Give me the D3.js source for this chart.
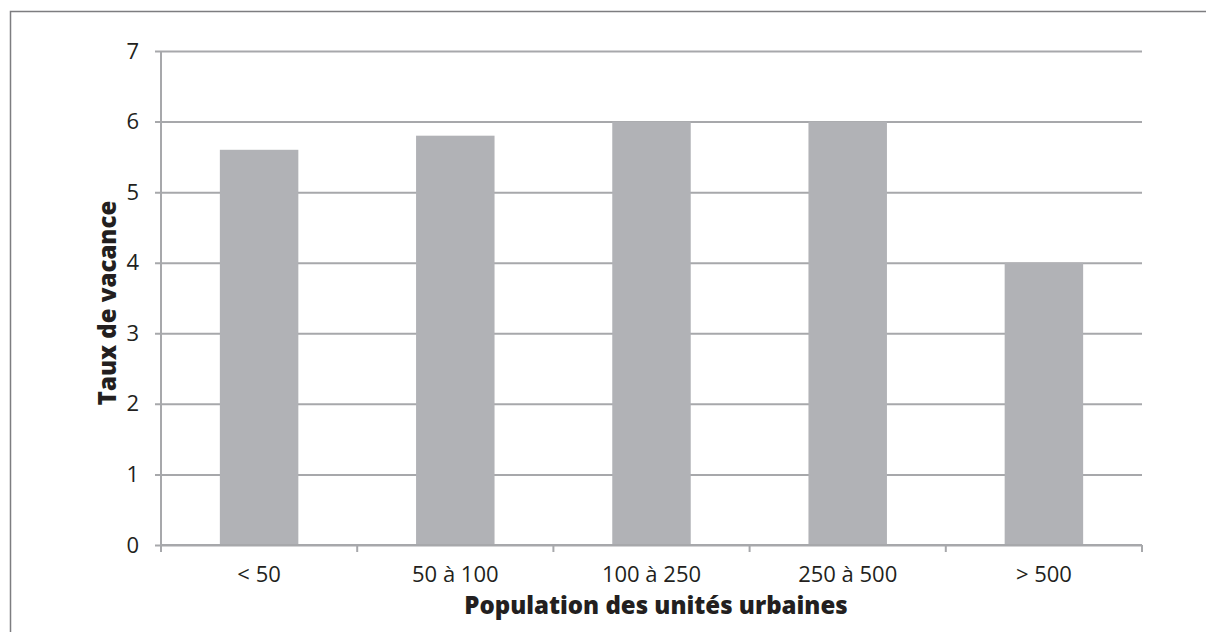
<!DOCTYPE html>
<html>
<head>
<meta charset="utf-8">
<script src="https://cdn.jsdelivr.net/npm/d3@7"></script>
<style>
  html, body { margin: 0; padding: 0; background: #fff; }
  svg { display: block; }
  text { font-family: "Open Sans", "Noto Sans", sans-serif; fill: #231f20; }
</style>
</head>
<body>
<svg id="chart" width="1206" height="632"></svg>
<script>
// Vacancy rate by size of urban unit (population, thousands)
const categories = ["< 50", "50 à 100", "100 à 250", "250 à 500", "> 500"];
const values = [5.6, 5.8, 6.0, 6.0, 4.0];
const yTicks = [0, 1, 2, 3, 4, 5, 6, 7];
const xTitle = "Population des unités urbaines";
const yTitle = "Taux de vacance";

const svg = d3.select("#chart");
const W = 1206, H = 632;
const plot = { left: 161, right: 1142, top: 51, bottom: 545 };
const gridColor = "#a7a8ab";
const barColor = "#b1b2b6";

// Outer frame (runs off the right and bottom edges)
svg.append("rect")
  .attr("x", 10.5).attr("y", 11.5)
  .attr("width", W + 20).attr("height", H + 20)
  .attr("fill", "none").attr("stroke", "#7d7d80").attr("stroke-width", 1.5);

const x = d3.scaleBand().domain(categories).range([plot.left, plot.right]).padding(0);
const y = d3.scaleLinear().domain([0, 7]).range([plot.bottom, plot.top]);

// Horizontal gridlines with short ticks to the left
const yAxis = d3.axisLeft(y).tickValues(yTicks)
  .tickSize(-(plot.right - plot.left)).tickPadding(16).tickFormat(d3.format("d"));
const gy = svg.append("g").attr("transform", `translate(${plot.left},0)`).call(yAxis);
gy.select(".domain").remove();
gy.selectAll(".tick line").attr("stroke", gridColor).attr("stroke-width", 2)
  .attr("x1", -6);
gy.selectAll(".tick text")
  .attr("x", -22)
  .attr("font-size", 22).attr("fill", "#231f20")
  .style("font-family", '"Open Sans", sans-serif');

// Bars, 40% of each band, centred
const barW = x.bandwidth() * 0.4;
svg.append("g").selectAll("rect")
  .data(values)
  .join("rect")
  .attr("x", (d, i) => x(categories[i]) + (x.bandwidth() - barW) / 2)
  .attr("y", d => y(d))
  .attr("width", barW)
  .attr("height", d => y(0) - y(d))
  .attr("fill", barColor);

// Vertical axis line
svg.append("line")
  .attr("x1", plot.left).attr("x2", plot.left)
  .attr("y1", plot.top).attr("y2", plot.bottom)
  .attr("stroke", gridColor).attr("stroke-width", 2);

// Category axis: baseline, boundary ticks, labels
const boundaries = categories.map(c => x(c)).concat([plot.right]);
svg.append("line")
  .attr("x1", plot.left).attr("x2", plot.right)
  .attr("y1", plot.bottom).attr("y2", plot.bottom)
  .attr("stroke", gridColor).attr("stroke-width", 2);
svg.append("g").selectAll("line")
  .data(boundaries)
  .join("line")
  .attr("x1", d => d).attr("x2", d => d)
  .attr("y1", plot.bottom).attr("y2", plot.bottom + 7)
  .attr("stroke", gridColor).attr("stroke-width", 2);
svg.append("g").selectAll("text")
  .data(categories)
  .join("text")
  .attr("x", d => x(d) + x.bandwidth() / 2)
  .attr("y", 582)
  .attr("text-anchor", "middle")
  .attr("font-size", 22)
  .text(d => d);

// Axis titles
svg.append("text")
  .attr("x", 656)
  .attr("y", 614)
  .attr("text-anchor", "middle")
  .attr("font-size", 24).attr("font-weight", 800)
  .text(xTitle);

svg.append("text")
  .attr("transform", `translate(116,${(plot.top + plot.bottom) / 2 + 5}) rotate(-90)`)
  .attr("text-anchor", "middle")
  .attr("font-size", 24).attr("font-weight", 800)
  .text(yTitle);
</script>
</body>
</html>
